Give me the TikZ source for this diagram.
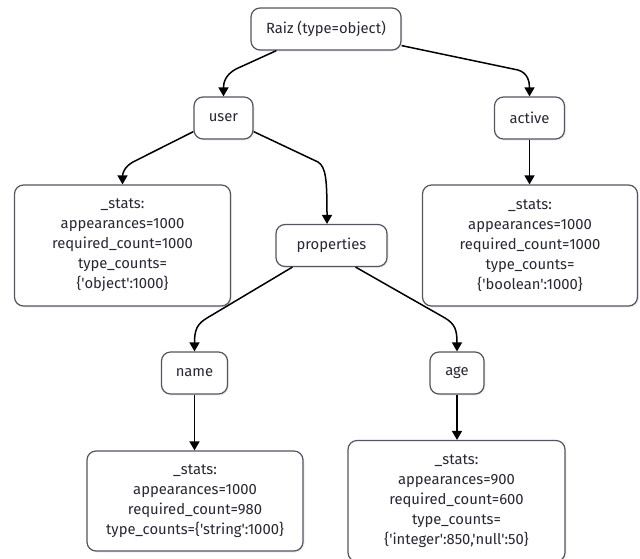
\documentclass[tikz,border=0pt]{standalone}
\usepackage{fontspec}
\setmainfont{Fira Sans}[Ligatures=TeXOff]
\usetikzlibrary{arrows.meta,shadows,calc}
\definecolor{bordc}{RGB}{84,84,98}
\definecolor{textc}{RGB}{40,40,52}
\tikzset{
  box/.style={draw=bordc, line width=1.2pt, rounded corners=9pt, fill=white,
    align=center, font=\fontsize{14.8}{20}\selectfont, text=textc, inner sep=0pt,
    minimum height=42pt,
    drop shadow={opacity=0.12, shadow xshift=1.5pt, shadow yshift=-1.5pt}},
  conn/.style={line width=1.5pt, draw=black, -{Triangle[length=9pt,width=10pt]}},
}
\begin{document}
\begin{tikzpicture}[x=1pt,y=-1pt]
\useasboundingbox (0,0) rectangle (640,558);
\node[box, minimum width=150pt] (raiz) at (326,29) {Raiz (type=object)};
\node[box, minimum width=59pt] (user) at (223.5,118) {user};
\node[box, minimum width=70pt] (active) at (529.5,118) {active};
\node[box, minimum width=216pt, minimum height=121pt] (s1) at (122.5,245.5)
  {\_stats:\\appearances=1000\\required\_count=1000\\type\_counts=\\\{'object':1000\}};
\node[box, minimum width=111pt] (props) at (331.5,245.5) {properties};
\node[box, minimum width=215pt, minimum height=121pt] (sa) at (530,245.5)
  {\_stats:\\appearances=1000\\required\_count=1000\\type\_counts=\\\{'boolean':1000\}};
\node[box, minimum width=66pt] (name) at (194.5,373) {name};
\node[box, minimum width=54pt] (age) at (457,373) {age};
\node[box, minimum width=216pt, minimum height=100pt] (sn) at (195,501)
  {\_stats:\\appearances=1000\\required\_count=980\\type\_counts=\{'string':1000\}};
\node[box, minimum width=217pt, minimum height=121pt] (sg) at (456.5,501)
  {\_stats:\\appearances=900\\required\_count=600\\type\_counts=\\\{'integer':850,'null':50\}};

\draw[conn] ([xshift=26pt]raiz.south west) -- (236,69) .. controls (225,75) and (223.5,83) .. (user.north);
\draw[conn] ([yshift=5pt]raiz.south east) -- (518,70) .. controls (528,73) and (529.5,82) .. (active.north);
\draw[conn] ([yshift=8pt]user.south west) -- (133,162) .. controls (124,167) and (122.5,174) .. (s1.north);
\draw[conn] ([yshift=8pt]user.south east) -- (318,162) .. controls (326,167) and (327,180) .. ([xshift=-4.5pt]props.north);
\draw[conn] (active.south) -- (active.south |- sa.north);
\draw[conn] ([xshift=17pt]props.south west) -- (207,318) .. controls (197,324) and (194.5,330) .. (name.north);
\draw[conn] ([xshift=-32pt]props.south east) -- (445,318) .. controls (455,324) and (457,330) .. (age.north);
\draw[conn] (name.south) -- (name.south |- sn.north);
\draw[conn] (age.south) -- (age.south |- sg.north);
\end{tikzpicture}
\end{document}
